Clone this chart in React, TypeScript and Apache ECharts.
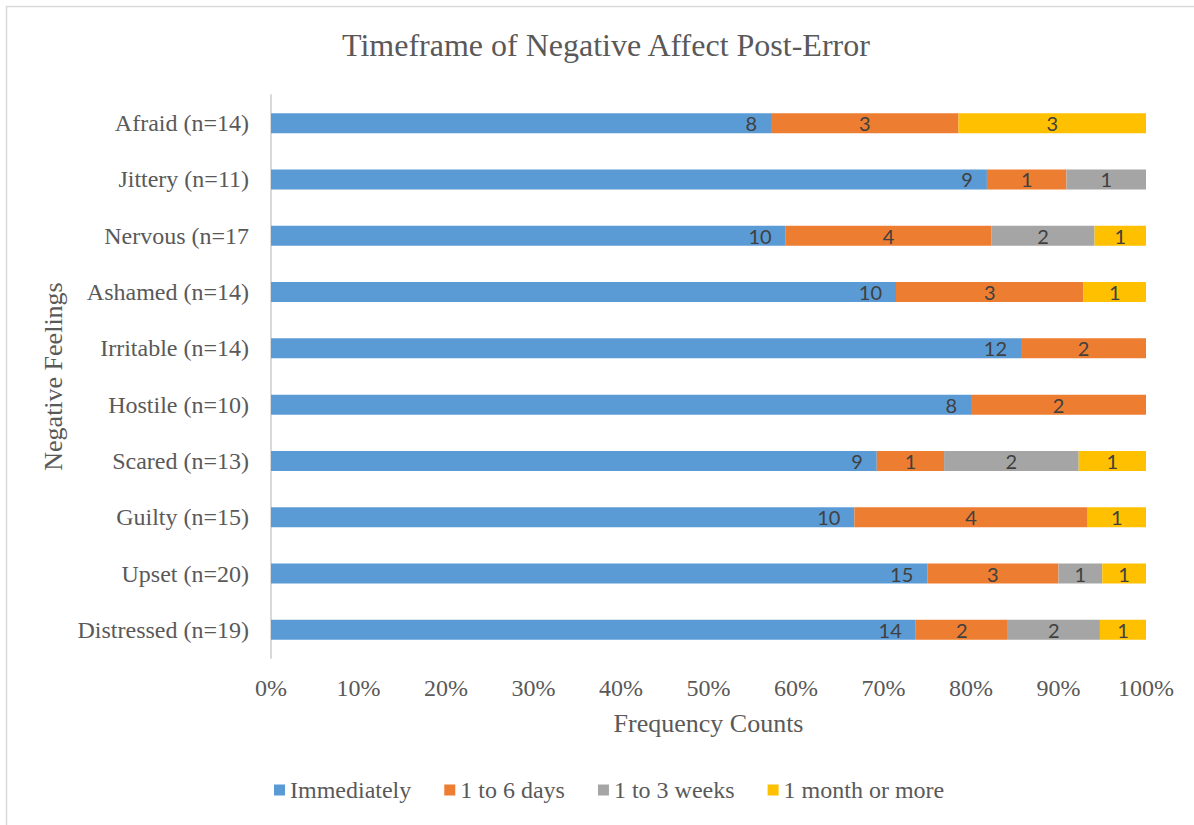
import React, { useEffect, useRef } from "react";
import * as echarts from "echarts";

const categories = [
  "Afraid (n=14)",
  "Jittery (n=11)",
  "Nervous (n=17",
  "Ashamed (n=14)",
  "Irritable (n=14)",
  "Hostile (n=10)",
  "Scared (n=13)",
  "Guilty (n=15)",
  "Upset (n=20)",
  "Distressed (n=19)",
];
const seriesNames = ["Immediately", "1 to 6 days", "1 to 3 weeks", "1 month or more"];
const immediately = [8, 9, 10, 10, 12, 8, 9, 10, 15, 14];
const days1to6 = [3, 1, 4, 3, 2, 2, 1, 4, 3, 2];
const weeks1to3 = [0, 1, 2, 0, 0, 0, 2, 0, 1, 2];
const monthOrMore = [3, 0, 1, 1, 0, 0, 1, 1, 1, 1];
const xTicks = [0, 10, 20, 30, 40, 50, 60, 70, 80, 90, 100];
const colors = ["#5B9BD5", "#ED7D31", "#A5A5A5", "#FFC000"];

const serif = "'Liberation Serif', 'Times New Roman', serif";
const labelFont = "Lato, 'Open Sans', sans-serif";

export default function App() {
  const ref = useRef<HTMLDivElement>(null);
  useEffect(() => {
    document.body.style.margin = "0";
    const chart = echarts.init(ref.current!, undefined, { renderer: "svg" });
    const counts = [immediately, days1to6, weeks1to3, monthOrMore];
    const totals = categories.map((_, i) => counts.reduce((s, arr) => s + arr[i], 0));
    const series = counts.map((arr, si) => ({
      name: seriesNames[si],
      type: "bar",
      stack: "total",
      barWidth: 20,
      data: arr.map((v, i) => (v / totals[i]) * 100),
      itemStyle: { color: colors[si] },
      label: {
        show: true,
        position: si === 0 ? "insideRight" : "inside",
        distance: 14,
        color: "#404040",
        fontFamily: labelFont,
        fontSize: 20,
        formatter: (p: any) => (arr[p.dataIndex] ? String(arr[p.dataIndex]) : ""),
      },
    }));
    chart.setOption({
      animation: false,
      title: {
        text: "Timeframe of Negative Affect Post-Error",
        left: 337,
        top: 24,
        textStyle: { fontFamily: serif, fontSize: 32, fontWeight: "normal", color: "#595959" },
      },
      graphic: [
        {
          type: "rect",
          shape: { x: 6.5, y: 6.5, width: 1300, height: 900 },
          style: { fill: "none", stroke: "#d9d9d9", lineWidth: 1.5 },
          silent: true,
        },
      ],
      legend: {
        data: seriesNames,
        bottom: 18,
        left: 269,
        icon: "rect",
        itemWidth: 11,
        itemHeight: 11,
        itemGap: 33,
        textStyle: { fontFamily: serif, fontSize: 24, color: "#595959" },
      },
      grid: { left: 271, right: 48, top: 95, bottom: 167, containLabel: false },
      xAxis: {
        type: "value",
        min: xTicks[0],
        max: xTicks[xTicks.length - 1],
        interval: 10,
        name: "Frequency Counts",
        nameLocation: "middle",
        nameGap: 52,
        nameTextStyle: { fontFamily: serif, fontSize: 26, color: "#595959" },
        axisLine: { show: false },
        axisTick: { show: false },
        splitLine: { show: false },
        axisLabel: {
          formatter: "{value}%",
          margin: 18,
          fontFamily: serif,
          fontSize: 24,
          color: "#595959",
        },
      },
      yAxis: {
        type: "category",
        inverse: true,
        data: categories,
        name: "Negative Feelings",
        nameLocation: "middle",
        nameGap: 197,
        nameRotate: 90,
        nameTextStyle: { fontFamily: serif, fontSize: 26, color: "#595959" },
        axisLine: { show: true, lineStyle: { color: "#d9d9d9", width: 2 } },
        axisTick: { show: false },
        axisLabel: { margin: 22, fontFamily: serif, fontSize: 24, color: "#595959" },
      },
      series,
    });
    return () => chart.dispose();
  }, []);
  return (
    <div
      ref={ref}
      style={{ position: "absolute", left: 0, top: 0, width: 1194, height: 825, background: "#fff" }}
    />
  );
}
